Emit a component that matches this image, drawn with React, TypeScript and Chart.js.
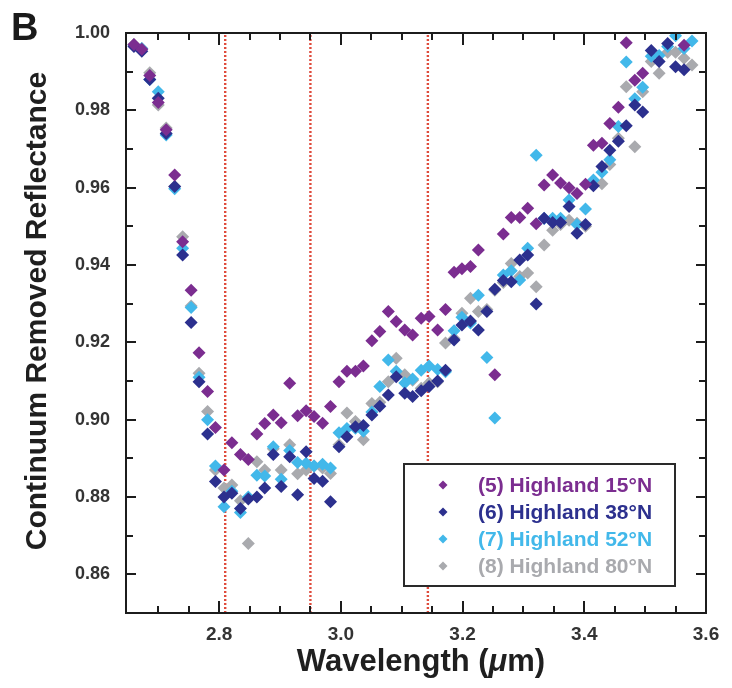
import React, { useEffect, useRef } from 'react';
import { Chart, registerables } from 'chart.js';

Chart.register(...registerables);

// ---------- data ----------
const wavelengths = [
  2.660, 2.673, 2.686, 2.700, 2.713, 2.727, 2.740, 2.754, 2.767, 2.781,
  2.794, 2.808, 2.821, 2.835, 2.848, 2.862, 2.875, 2.889, 2.902, 2.916,
  2.929, 2.943, 2.956, 2.970, 2.983, 2.997, 3.010, 3.024, 3.037, 3.051,
  3.064, 3.078, 3.091, 3.105, 3.118, 3.132, 3.145, 3.159, 3.172, 3.186,
  3.199, 3.213, 3.226, 3.240, 3.253, 3.267, 3.280, 3.294, 3.307, 3.321,
  3.334, 3.348, 3.361, 3.375, 3.388, 3.402, 3.415, 3.429, 3.442, 3.456,
  3.469, 3.483, 3.496, 3.510, 3.523, 3.537, 3.550, 3.564, 3.577,
];

const highland15N = [
  0.997, 0.9958, 0.989, 0.982, 0.975, 0.9633, 0.946, 0.9335, 0.9173, 0.9073,
  0.898, 0.887, 0.894, 0.891, 0.8897, 0.8963, 0.899, 0.9012, 0.8992, 0.9094,
  0.901, 0.9023, 0.9008, 0.8991, 0.9034, 0.9098, 0.9125, 0.9125, 0.9139, 0.9204,
  0.9228, 0.928, 0.9254, 0.9232, 0.9219, 0.9262, 0.9267, 0.9232, 0.9285, 0.9381,
  0.939, 0.9396, 0.9439, null, 0.9116, 0.948, 0.9523, 0.9523, 0.9547, 0.9507,
  0.9607, 0.9633, 0.9612, 0.96, 0.9585, 0.9609, 0.971, 0.9715, 0.9766, 0.9808,
  0.9975, 0.9878, 0.9896, null, null, null, null, 0.9968, null,
];

const highland38N = [
  0.9965, 0.9953, 0.988, 0.9831, 0.974, 0.9603, 0.9426, 0.9251, 0.9098, 0.8963,
  0.884, 0.880, 0.881, 0.877, 0.8795, 0.880, 0.8823, 0.891, 0.8827, 0.8904,
  0.8806, 0.8917, 0.8848, 0.8841, 0.8788, 0.893, 0.8956, 0.8982, 0.8985, 0.9012,
  0.9035, 0.9064, 0.9111, 0.9068, 0.906, 0.9075, 0.9086, 0.910, 0.9128, 0.9206,
  0.9245, 0.9255, 0.9232, 0.928, 0.9337, 0.936, 0.9357, 0.9413, 0.9426, 0.9299,
  0.9521, 0.951, 0.951, 0.9551, 0.9482, 0.9505, 0.9605, 0.9655, 0.9697, 0.972,
  0.976, 0.9814, 0.9796, 0.9955, 0.9926, 0.9973, 0.9913, 0.9905, null,
];

const highland52N = [
  0.9968, 0.996, 0.988, 0.9848, 0.9736, 0.9597, 0.9443, 0.929, 0.911, 0.900,
  0.888, 0.8775, 0.8815, 0.876, 0.880, 0.8856, 0.8854, 0.893, 0.8846, 0.892,
  0.8889, 0.8887, 0.888, 0.8885, 0.8875, 0.8966, 0.8977, 0.8978, 0.897, 0.902,
  0.9086, 0.9154, 0.9125, 0.9095, 0.9105, 0.9128, 0.9139, 0.913, 0.9124, 0.923,
  0.9265, 0.925, 0.9322, 0.9161, 0.9004, 0.9374, 0.9385, 0.9361, 0.9443, 0.9684,
  0.952, 0.9521, 0.9521, 0.9568, 0.9505, 0.9545, 0.962, 0.964, 0.9672, 0.9758,
  0.9925, 0.983, 0.986, 0.994, 0.9942, 0.9965, 0.9993, 0.996, 0.9979,
];

const highland80N = [
  0.997, 0.996, 0.9897, 0.9814, 0.9754, 0.9603, 0.9473, 0.9294, 0.912, 0.9021,
  0.887, 0.8823, 0.8831, 0.879, 0.868, 0.8891, 0.887, 0.8925, 0.887, 0.8935,
  0.886, 0.887, 0.888, 0.8875, 0.8861, 0.8935, 0.9017, 0.8995, 0.8948, 0.9042,
  0.9045, 0.9098, 0.9159, 0.9116, 0.9102, 0.9081, 0.9095, 0.9098, 0.9198, 0.921,
  0.9275, 0.9314, 0.928, 0.9285, 0.9335, 0.9355, 0.9404, 0.937, 0.9379, 0.9344,
  0.9452, 0.949, 0.9505, 0.9516, 0.9508, 0.950, 0.9616, 0.961, 0.966, 0.9728,
  0.9861, 0.9706, 0.9848, 0.9926, 0.9896, 0.995, 0.995, 0.9935, 0.9917,
];

const seriesNames = [
  '(5) Highland 15°N',
  '(6) Highland 38°N',
  '(7) Highland 52°N',
  '(8) Highland 80°N',
];
const seriesValues = [highland15N, highland38N, highland52N, highland80N];
const seriesColors = ['#7b2d90', '#2c308e', '#42b8ea', '#a9aaae'];

const bandCenters = [2.81, 2.95, 3.143];

const xTicks = [2.8, 3.0, 3.2, 3.4, 3.6];
const yTicks = [0.86, 0.88, 0.9, 0.92, 0.94, 0.96, 0.98, 1.0];
const xRange = [2.647, 3.6];
const yRange = [0.85, 1.0];

const FONT = "'Liberation Sans', Arial, Helvetica, sans-serif";

const decorPlugin = {
  id: 'decor',
  afterDatasetsDraw(chart: any) {
    const { ctx, chartArea: a, scales } = chart;
    const xs = scales.x;
    const ys = scales.y;
    ctx.save();
    ctx.strokeStyle = '#1c1c1c';
    ctx.lineWidth = 2;
    const seg = (x1: number, y1: number, x2: number, y2: number) => {
      ctx.beginPath();
      ctx.moveTo(x1, y1);
      ctx.lineTo(x2, y2);
      ctx.stroke();
    };
    for (let k = 0; k < 40; k++) {
      const v = 2.7 + 0.05 * k;
      if (v > xRange[1] + 1e-6) break;
      const major = xTicks.some((t) => Math.abs(t - v) < 1e-6);
      const len = major ? 12 : 7;
      const px = Math.round(xs.getPixelForValue(v));
      seg(px, a.bottom, px, a.bottom - len);
      seg(px, a.top, px, a.top + len);
    }
    for (let k = 0; k < 20; k++) {
      const v = 0.86 + 0.01 * k;
      if (v > yRange[1] - 1e-6) break;
      const major = yTicks.some((t) => Math.abs(t - v) < 1e-6);
      const len = major ? 10 : 7;
      const py = Math.round(ys.getPixelForValue(v));
      seg(a.left, py, a.left + len, py);
      seg(a.right, py, a.right - len, py);
    }
    ctx.strokeRect(a.left, a.top, a.right - a.left, a.bottom - a.top);
    ctx.restore();
  },
  afterDraw(chart: any) {
    const { ctx, chartArea: a } = chart;
    ctx.save();
    ctx.fillStyle = '#1a1a1a';
    ctx.font = `bold 38px ${FONT}`;
    ctx.textAlign = 'left';
    ctx.textBaseline = 'alphabetic';
    ctx.fillText('B', 11, 40);

    ctx.save();
    ctx.translate(38, (a.top + a.bottom) / 2 - 12);
    ctx.rotate(-Math.PI / 2);
    ctx.font = `bold 30px ${FONT}`;
    ctx.textAlign = 'center';
    ctx.textBaseline = 'middle';
    ctx.fillStyle = '#1f1f1f';
    ctx.fillText('Continuum Removed Reflectance', 0, 0);
    ctx.restore();

    const parts = [
      { t: 'Wavelength (', f: `bold 31px ${FONT}` },
      { t: 'μ', f: `italic bold 31px ${FONT}` },
      { t: 'm)', f: `bold 31px ${FONT}` },
    ];
    let total = 0;
    for (const p of parts) {
      ctx.font = p.f;
      total += ctx.measureText(p.t).width;
    }
    let x0 = 421 - total / 2;
    ctx.textAlign = 'left';
    ctx.textBaseline = 'middle';
    ctx.fillStyle = '#1f1f1f';
    for (const p of parts) {
      ctx.font = p.f;
      ctx.fillText(p.t, x0, 662);
      x0 += ctx.measureText(p.t).width;
    }

    const bx = 404, by = 464, bw = 271, bh = 122;
    ctx.fillStyle = '#ffffff';
    ctx.fillRect(bx, by, bw, bh);
    ctx.strokeStyle = '#2a2a2a';
    ctx.lineWidth = 2;
    ctx.strokeRect(bx, by, bw, bh);
    ctx.font = `bold 21px ${FONT}`;
    ctx.textBaseline = 'middle';
    seriesNames.forEach((name, i) => {
      const cy = 485 + i * 27;
      ctx.fillStyle = seriesColors[i];
      ctx.beginPath();
      ctx.moveTo(443, cy - 4.5);
      ctx.lineTo(447.5, cy);
      ctx.lineTo(443, cy + 4.5);
      ctx.lineTo(438.5, cy);
      ctx.closePath();
      ctx.fill();
      ctx.fillText(name, 478, cy + 1);
    });
    ctx.restore();
  },
};

export default function App() {
  const ref = useRef<HTMLCanvasElement>(null);

  useEffect(() => {
    if (!ref.current) return;
    const toPoints = (vals: (number | null)[]) =>
      wavelengths
        .map((x, i) => (vals[i] == null ? null : { x, y: vals[i] as number }))
        .filter((p) => p !== null);

    const pointSets = seriesValues.map((vals, k) => ({
      label: seriesNames[k],
      data: toPoints(vals),
      pointStyle: 'rectRot',
      pointRadius: 6.5,
      pointHoverRadius: 6.5,
      backgroundColor: seriesColors[k],
      borderColor: seriesColors[k],
      borderWidth: 0,
      showLine: false,
      order: k,
    }));

    const bandSets = bandCenters.map((b) => ({
      label: 'band',
      data: [
        { x: b, y: yRange[0] },
        { x: b, y: yRange[1] },
      ],
      showLine: true,
      borderColor: '#df4b3c',
      borderWidth: 2.4,
      borderDash: [2, 2],
      pointRadius: 0,
      order: 10,
    }));

    const chart = new Chart(ref.current, {
      type: 'scatter',
      data: { datasets: [...pointSets, ...bandSets] as any },
      options: {
        animation: false,
        responsive: false,
        maintainAspectRatio: false,
        layout: { padding: { left: 0, right: 26, top: 33, bottom: 0 } },
        plugins: {
          legend: { display: false },
          tooltip: { enabled: false },
        },
        scales: {
          x: {
            type: 'linear',
            min: xRange[0],
            max: xRange[1],
            afterBuildTicks: (s: any) => {
              s.ticks = xTicks.map((v) => ({ value: v }));
            },
            afterFit: (s: any) => {
              s.height = 75;
            },
            grid: { display: false, drawTicks: false, tickLength: 0 },
            border: { display: false },
            ticks: {
              autoSkip: false,
              maxRotation: 0,
              padding: 10,
              color: '#333333',
              font: { family: FONT, size: 19, weight: 'bold' },
              callback: (v: any) => Number(v).toFixed(1),
            },
          },
          y: {
            type: 'linear',
            min: yRange[0],
            max: yRange[1],
            afterBuildTicks: (s: any) => {
              s.ticks = yTicks.map((v) => ({ value: v }));
            },
            afterFit: (s: any) => {
              s.width = 126;
            },
            grid: { display: false, drawTicks: false, tickLength: 0 },
            border: { display: false },
            ticks: {
              autoSkip: false,
              padding: 16,
              color: '#333333',
              font: { family: FONT, size: 18, weight: 'bold' },
              callback: (v: any) => Number(v).toFixed(2),
            },
          },
        },
      } as any,
      plugins: [decorPlugin],
    });

    return () => chart.destroy();
  }, []);

  return (
    <div style={{ position: 'absolute', left: 0, top: 0, width: 732, height: 688, background: '#fff' }}>
      <canvas ref={ref} width={732} height={688} style={{ display: 'block' }} />
    </div>
  );
}
